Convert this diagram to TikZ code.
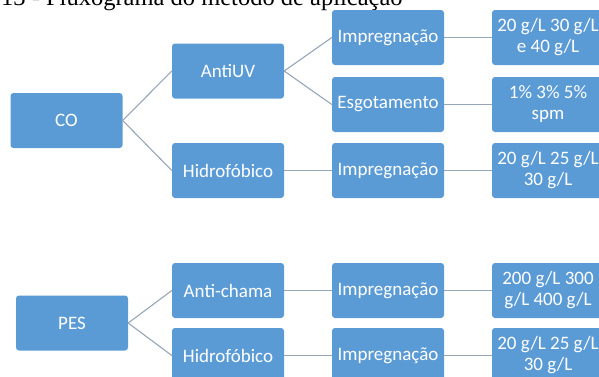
\documentclass[tikz,border=0pt]{standalone}
\usepackage{fontspec}
\setmainfont{Carlito}
\newfontfamily\titolofont{Liberation Serif}
\definecolor{azzurro}{RGB}{91,155,213}
\definecolor{linea}{RGB}{150,166,184}
\begin{document}
\begin{tikzpicture}[x=1pt, y=-1pt,
    caixa/.style={fill=azzurro, rounded corners=3pt, text=white, align=center,
        minimum width=112pt, minimum height=55pt, inner sep=0pt,
        font=\fontsize{19}{21}\selectfont},
    liga/.style={draw=linea, line width=1.1pt}]
            \useasboundingbox (0,0) rectangle (599,376);
            \clip (0,0) rectangle (599,376);
            %titolo
            \node[anchor=base west, inner sep=0pt, font=\titolofont\fontsize{24.5}{26}\selectfont] (titolo) at (1,5) {13 - Fluxograma do método de aplicação};
            %caixe CO
            \node[caixa] (co) at (66.5,120.5) {CO};
            \node[caixa] (antiuv) at (228,71) {AntiUV};
            \node[caixa] (hidro1) at (228,170.5) {Hidrofóbico};
            \node[caixa] (impr1) at (388,37.5) {Impregnação};
            \node[caixa] (esgot) at (388,104.5) {Esgotamento};
            \node[caixa] (impr2) at (388,170.5) {Impregnação};
            \node[caixa] (conc1) at (548,37.5) {20 g/L 30 g/L\\e 40 g/L};
            \node[caixa] (conc2) at (548,104.5) {1\% 3\% 5\%\\spm};
            \node[caixa] (conc3) at (548,170.5) {20 g/L 25 g/L\\30 g/L};
            %caixe PES
            \node[caixa] (pes) at (72,323) {PES};
            \node[caixa] (antich) at (228,290.5) {Anti-chama};
            \node[caixa] (hidro2) at (228,355.5) {Hidrofóbico};
            \node[caixa] (impr3) at (388,290.5) {Impregnação};
            \node[caixa] (impr4) at (388,355.5) {Impregnação};
            \node[caixa] (conc4) at (548,290.5) {200 g/L 300\\g/L 400 g/L};
            \node[caixa] (conc5) at (548,355.5) {20 g/L 25 g/L\\30 g/L};
            %collegamenti
            \draw[liga] (co.east) -- (antiuv.west);
            \draw[liga] (co.east) -- (hidro1.west);
            \draw[liga] (antiuv.east) -- (impr1.west);
            \draw[liga] (antiuv.east) -- (esgot.west);
            \draw[liga] (hidro1.east) -- (impr2.west);
            \draw[liga] (impr1.east) -- (conc1.west);
            \draw[liga] (esgot.east) -- (conc2.west);
            \draw[liga] (impr2.east) -- (conc3.west);
            \draw[liga] (pes.east) -- (antich.west);
            \draw[liga] (pes.east) -- (hidro2.west);
            \draw[liga] (antich.east) -- (impr3.west);
            \draw[liga] (hidro2.east) -- (impr4.west);
            \draw[liga] (impr3.east) -- (conc4.west);
            \draw[liga] (impr4.east) -- (conc5.west);
        \end{tikzpicture}
\end{document}
